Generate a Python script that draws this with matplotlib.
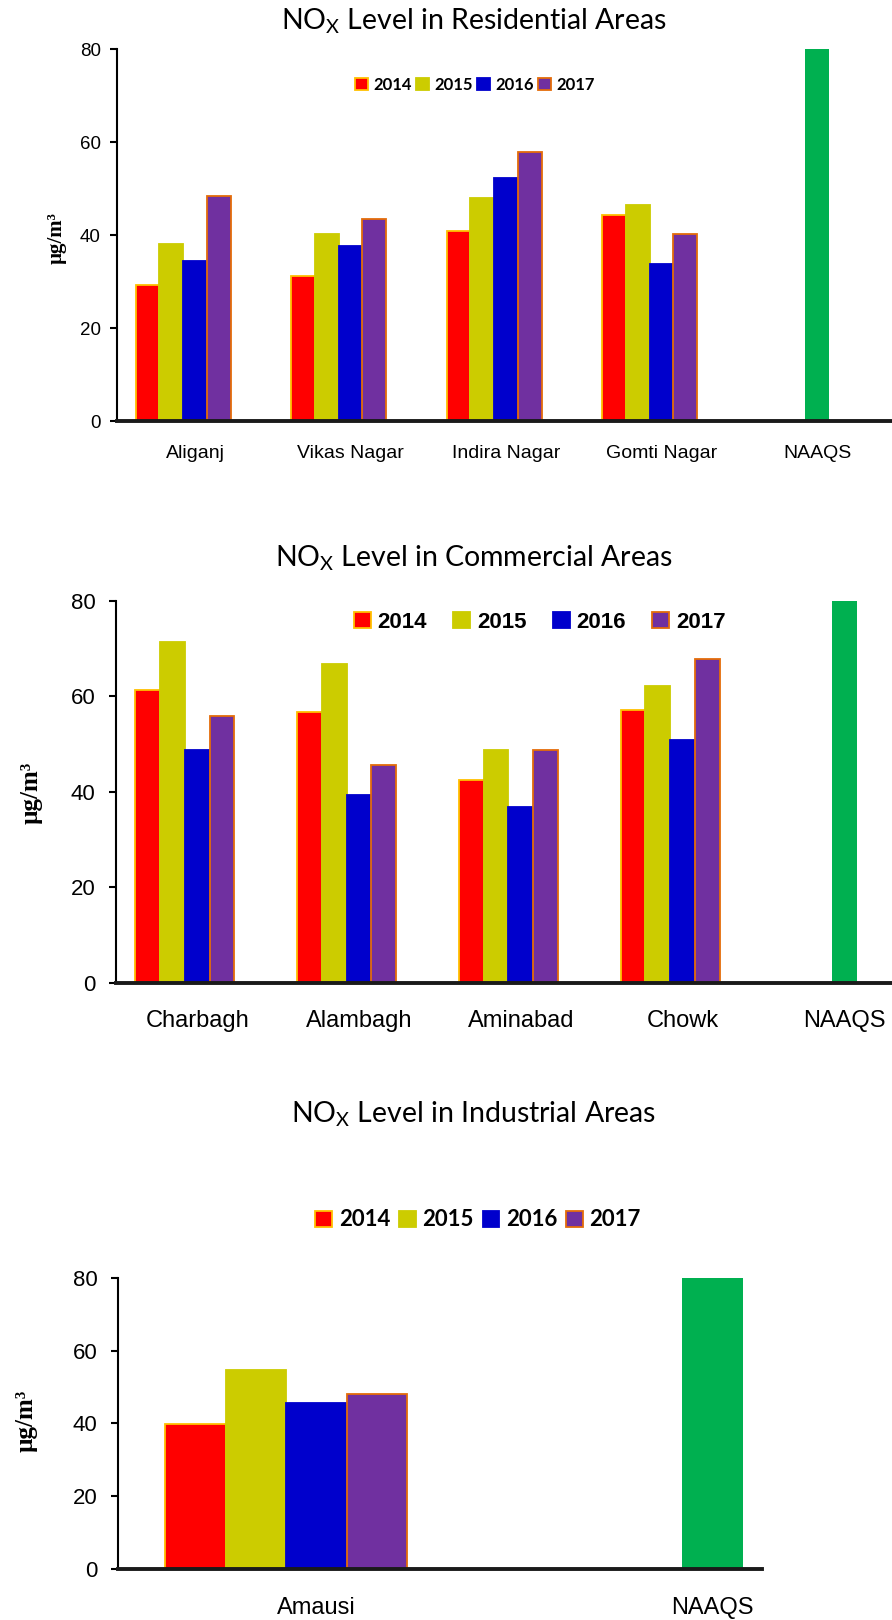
import numpy as np
from matplotlib import pyplot as plt

years = ['2014', '2015', '2016', '2017']
naaqs = 80

residential_sites = ['Aliganj', 'Vikas Nagar', 'Indira Nagar', 'Gomti Nagar']
residential_2014 = [29.2, 31.1, 40.9, 44.4]
residential_2015 = [38.1, 40.3, 48.0, 46.4]
residential_2016 = [34.5, 37.7, 52.3, 33.8]
residential_2017 = [48.5, 43.5, 57.9, 40.3]

commercial_sites = ['Charbagh', 'Alambagh', 'Aminabad', 'Chowk']
commercial_2014 = [61.4, 56.8, 42.4, 57.1]
commercial_2015 = [71.5, 66.7, 48.7, 62.1]
commercial_2016 = [48.7, 39.3, 36.9, 50.9]
commercial_2017 = [56.0, 45.7, 48.8, 67.8]

industrial_sites = ['Amausi']
industrial_2014 = [39.7]
industrial_2015 = [54.6]
industrial_2016 = [45.5]
industrial_2017 = [48.0]

# цвета как в Excel
face = ['#FF0000', '#CCCC00', '#0000CC', '#7030A0']
edge = ['#FFC000', '#CCCC00', '#0000CC', '#E46C0A']
green = '#00B050'

plt.rcParams['mathtext.default'] = 'regular'

fig = plt.figure(figsize=(8.92, 16.2), dpi=100)


def panel(rect, sites, series, xmax, tick_fs, xlab_fs, ypad, xpad, title, title_y,
          leg_xy, leg_font, leg_fs, leg_colsp, ylab_xy, ylab_fs):
    ax = fig.add_axes(rect)
    w = 0.153
    x = np.arange(len(sites))
    bars = []
    for k, vals in enumerate(series):
        b = ax.bar(x + (k - 2) * w, vals, w, color=face[k], edgecolor=edge[k],
                   linewidth=1.3, label=years[k], zorder=2)
        bars.append(b)
    ax.bar([len(sites)], [naaqs], w, color=green, zorder=2)
    ax.set_xlim(-0.5, xmax)
    ax.set_ylim(0, 80)
    ax.set_yticks([0, 20, 40, 60, 80])
    ax.set_xticks(list(x) + [len(sites)])
    ax.set_xticklabels(sites + ['NAAQS'], family='Liberation Sans', fontsize=xlab_fs)
    for lab in ax.get_yticklabels():
        lab.set_family('Liberation Sans')
        lab.set_fontsize(tick_fs)
    ax.tick_params(axis='y', direction='out', length=5, width=1.5, pad=ypad)
    ax.tick_params(axis='x', length=0, pad=xpad)
    ax.spines['top'].set_visible(False)
    ax.spines['right'].set_visible(False)
    ax.spines['left'].set_linewidth(1.5)
    ax.spines['bottom'].set_linewidth(2.8)
    ax.spines['bottom'].set_color('#1a1a1a')
    ax.spines['bottom'].set_zorder(3)

    fig.text(0.531, title_y, title, ha='center', va='center', family='Lato', fontsize=20.5)
    fig.text(ylab_xy[0], ylab_xy[1], 'µg/m³', rotation=90, ha='center', va='center',
             family='Liberation Serif', weight='bold', fontsize=ylab_fs)
    fig.legend(handles=bars, loc='center', bbox_to_anchor=leg_xy, ncol=4, frameon=False,
               handlelength=0.75, handleheight=0.75, handletextpad=0.3,
               columnspacing=leg_colsp, borderaxespad=0,
               prop={'family': leg_font, 'weight': 'bold', 'size': leg_fs})
    return ax


panel([0.1315, 0.7401, 0.8716, 0.2296], residential_sites,
      [residential_2014, residential_2015, residential_2016, residential_2017],
      4.5, 13.5, 14, 7, 17, r'NO$_{X}$ Level in Residential Areas', 1 - 21 / 1620,
      (0.5325, 1 - 85 / 1620), 'Lato', 12, 0.3, (57 / 892, 1 - 238 / 1620), 15)

panel([0.1306, 0.3934, 0.9064, 0.2356], commercial_sites,
      [commercial_2014, commercial_2015, commercial_2016, commercial_2017],
      4.5, 16, 17, 10, 20, r'NO$_{X}$ Level in Commercial Areas', 1 - 558 / 1620,
      (0.605, 1 - 622 / 1620), 'Liberation Sans', 16, 1.2, (31 / 892, 1 - 793 / 1620), 18)

panel([0.1328, 0.0315, 0.7209, 0.1798], industrial_sites,
      [industrial_2014, industrial_2015, industrial_2016, industrial_2017],
      1.124, 16, 17, 10, 20, r'NO$_{X}$ Level in Industrial Areas', 1 - 1114 / 1620,
      (0.536, 1 - 1220 / 1620), 'Lato', 16, 0.4, (26 / 892, 1 - 1421 / 1620), 18)

fig.savefig('out.png', dpi=100)
